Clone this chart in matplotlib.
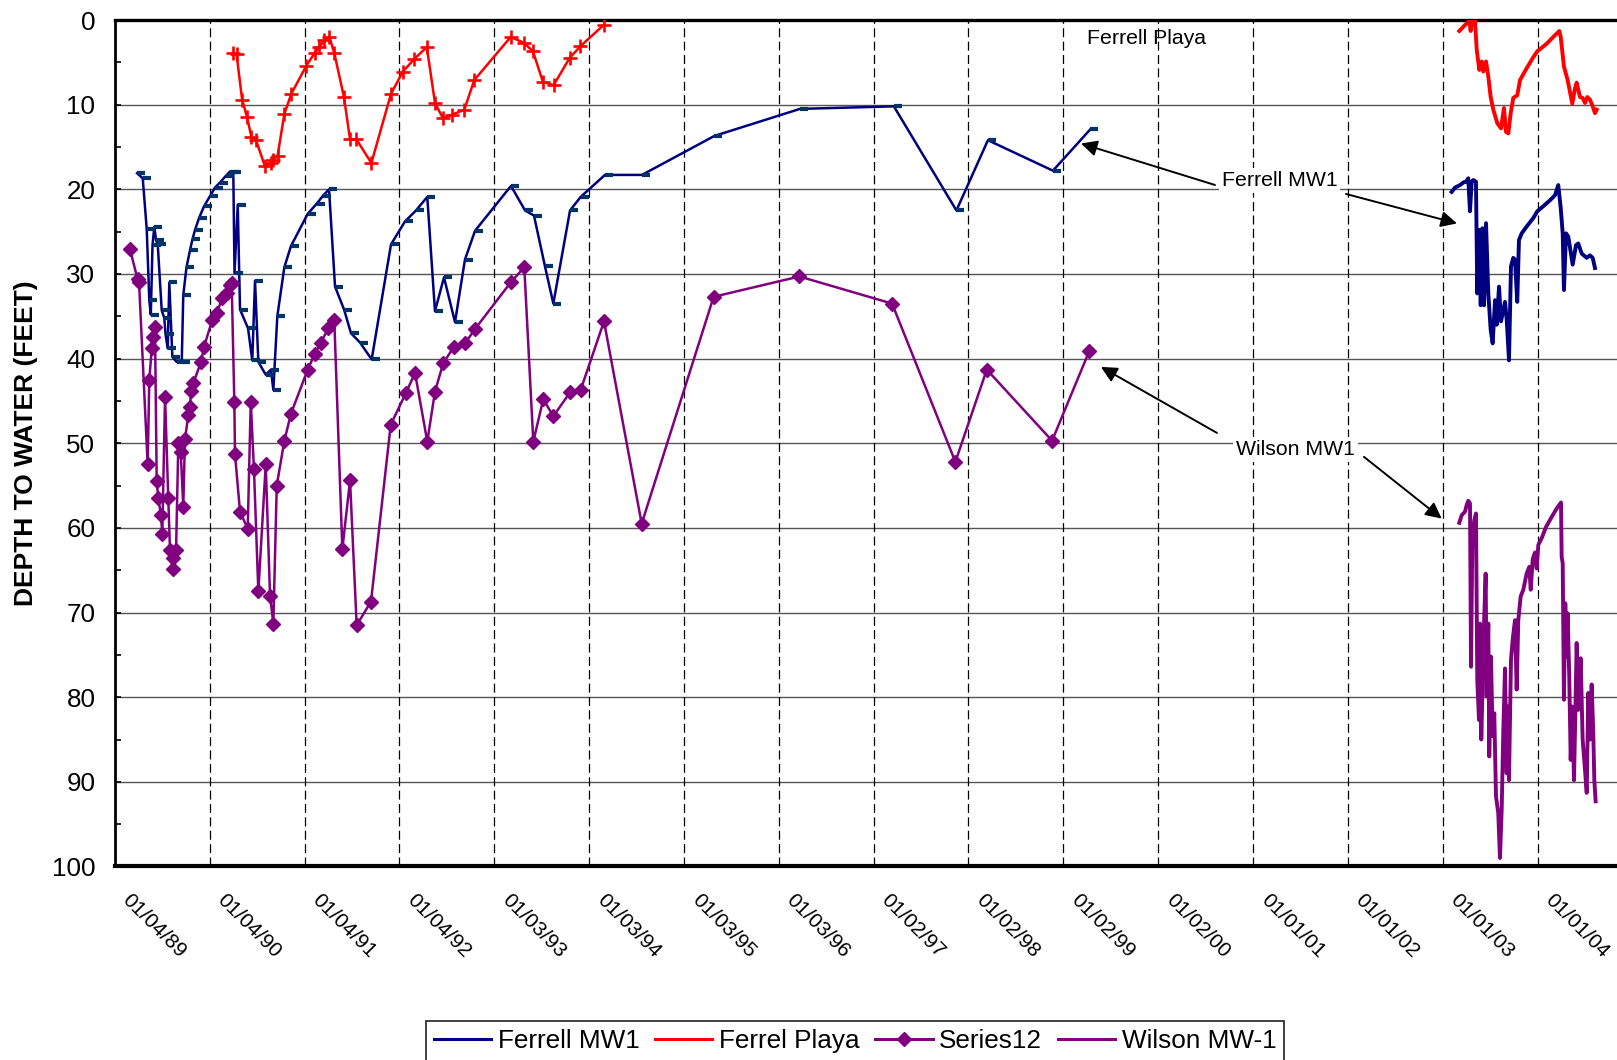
import matplotlib
matplotlib.use("Agg")
import matplotlib.pyplot as plt
import matplotlib.transforms as mtransforms
from matplotlib.path import Path
from matplotlib.lines import Line2D
from datetime import datetime

plt.rcParams['font.family'] = ['Liberation Sans', 'DejaVu Sans']

# ---------------------------------------------------------------------------
# Axis labels (dates are MM/DD/YY, one every 365 days)
# ---------------------------------------------------------------------------
tick_labels = ['01/04/89', '01/04/90', '01/04/91', '01/04/92', '01/03/93',
               '01/03/94', '01/03/95', '01/03/96', '01/02/97', '01/02/98',
               '01/02/99', '01/02/00', '01/01/01', '01/01/02', '01/01/03',
               '01/01/04']
depth_ticks = [0, 10, 20, 30, 40, 50, 60, 70, 80, 90, 100]

# ---------------------------------------------------------------------------
# Manual measurements, 1989-1999 (decimal year, depth to water in feet)
# ---------------------------------------------------------------------------
ferrell_manual_year = [
    1989.242, 1989.302, 1989.344, 1989.371, 1989.387, 1989.405, 1989.424,
    1989.442, 1989.460, 1989.502, 1989.529, 1989.542, 1989.565, 1989.582,
    1989.614, 1989.660, 1989.713, 1989.729, 1989.763, 1989.800, 1989.826,
    1989.853, 1989.895, 1989.948, 1990.011, 1990.063, 1990.116, 1990.179,
    1990.221, 1990.256, 1990.269, 1990.303, 1990.327, 1990.411, 1990.456,
    1990.485, 1990.520, 1990.598, 1990.653, 1990.678, 1990.720, 1990.794,
    1990.864, 1991.040, 1991.135, 1991.198, 1991.265, 1991.328, 1991.423,
    1991.496, 1991.591, 1991.714, 1991.918, 1992.065, 1992.181, 1992.300,
    1992.381, 1992.476, 1992.592, 1992.697, 1992.803, 1993.182, 1993.330,
    1993.424, 1993.540, 1993.628, 1993.804, 1993.916, 1994.172, 1994.562,
    1995.324, 1996.227, 1997.216, 1997.875, 1998.207, 1998.892, 1999.287]
ferrell_manual_depth = [
    18.1, 18.7, 24.7, 33.1, 34.8, 26.6, 24.4,
    26.0, 26.5, 34.3, 35.2, 37.1, 38.8, 31.0,
    39.8, 40.4, 40.4, 32.5, 29.2, 27.2, 25.9,
    24.8, 23.4, 22.0, 20.8, 19.8, 19.2, 18.4,
    17.9, 17.9, 29.9, 21.8, 34.2, 36.4, 40.2,
    30.8, 40.4, 41.9, 41.3, 43.7, 35.0, 29.2,
    26.7, 22.9, 21.7, 20.8, 20.0, 31.5, 34.2,
    37.0, 38.1, 40.1, 26.5, 23.8, 22.5, 20.9,
    34.4, 30.4, 35.7, 28.3, 24.9, 19.6, 22.5,
    23.1, 29.1, 33.5, 22.5, 20.9, 18.3, 18.3,
    13.7, 10.5, 10.2, 22.5, 14.2, 17.8, 12.9]

playa_manual_year = [
    1990.253, 1990.290, 1990.349, 1990.401, 1990.447, 1990.496, 1990.590,
    1990.650, 1990.677, 1990.722, 1990.794, 1990.868, 1991.026, 1991.113,
    1991.162, 1991.215, 1991.268, 1991.320, 1991.422, 1991.486, 1991.553,
    1991.711, 1991.918, 1992.043, 1992.163, 1992.295, 1992.381, 1992.465,
    1992.558, 1992.690, 1992.795, 1993.179, 1993.318, 1993.413, 1993.518,
    1993.631, 1993.799, 1993.913, 1994.158]
playa_manual_depth = [
    3.9, 4.0, 9.4, 11.5, 13.8, 14.2, 17.3,
    16.9, 16.5, 16.1, 11.1, 8.7, 5.4, 3.9,
    3.2, 2.4, 2.0, 3.9, 9.1, 14.1, 14.1,
    16.9, 8.7, 6.1, 4.6, 3.2, 9.8, 11.6,
    11.2, 10.6, 7.1, 2.0, 2.7, 3.7, 7.3,
    7.7, 4.5, 3.1, 0.6]

series12_year = [
    1989.168, 1989.247, 1989.263, 1989.354, 1989.371, 1989.397, 1989.407,
    1989.431, 1989.449, 1989.466, 1989.494, 1989.508, 1989.537, 1989.571,
    1989.589, 1989.616, 1989.626, 1989.653, 1989.677, 1989.702, 1989.729,
    1989.747, 1989.782, 1989.800, 1989.811, 1989.835, 1989.916, 1989.948,
    1990.035, 1990.081, 1990.140, 1990.187, 1990.221, 1990.239, 1990.267,
    1990.274, 1990.327, 1990.408, 1990.440, 1990.474, 1990.520, 1990.598,
    1990.643, 1990.678, 1990.714, 1990.794, 1990.864, 1991.040, 1991.117,
    1991.180, 1991.257, 1991.320, 1991.405, 1991.486, 1991.556, 1991.707,
    1991.915, 1992.073, 1992.171, 1992.300, 1992.381, 1992.469, 1992.582,
    1992.697, 1992.803, 1993.179, 1993.322, 1993.417, 1993.522, 1993.628,
    1993.804, 1993.916, 1994.162, 1994.559, 1995.317, 1996.220, 1997.197,
    1997.864, 1998.195, 1998.883, 1999.275]
series12_depth = [
    27.1, 30.6, 31.0, 52.5, 42.5, 38.8, 37.4,
    36.3, 54.5, 56.5, 58.5, 60.7, 44.5, 56.5,
    62.6, 64.8, 63.5, 62.6, 50.0, 51.0, 57.5,
    49.5, 46.7, 45.7, 43.8, 42.9, 40.4, 38.6,
    35.4, 34.6, 32.9, 32.2, 31.3, 31.1, 45.1,
    51.3, 58.1, 60.1, 45.1, 53.1, 67.5, 52.5,
    68.0, 71.3, 55.0, 49.7, 46.5, 41.3, 39.4,
    38.1, 36.4, 35.4, 62.5, 54.4, 71.5, 68.7,
    47.8, 44.1, 41.7, 49.8, 43.9, 40.5, 38.6,
    38.2, 36.5, 31.0, 29.2, 49.8, 44.8, 46.8,
    44.0, 43.7, 35.6, 59.5, 32.7, 30.3, 33.5,
    52.2, 41.3, 49.7, 39.1]

# ---------------------------------------------------------------------------
# Transducer records, 2003-2004 (decimal year, depth to water in feet)
# ---------------------------------------------------------------------------
ferrell_mw1_year = [
    2003.093, 2003.128, 2003.181, 2003.215, 2003.244, 2003.268, 2003.286,
    2003.304, 2003.321, 2003.349, 2003.363, 2003.384, 2003.399, 2003.416,
    2003.434, 2003.455, 2003.479, 2003.504, 2003.525, 2003.550, 2003.567,
    2003.592, 2003.613, 2003.655, 2003.673, 2003.697, 2003.718, 2003.742,
    2003.760, 2003.784, 2003.802, 2003.831, 2003.883, 2003.953, 2003.995,
    2004.058, 2004.129, 2004.182, 2004.216, 2004.242, 2004.263, 2004.276,
    2004.298, 2004.322, 2004.368, 2004.403, 2004.427, 2004.463, 2004.516,
    2004.550, 2004.579, 2004.603]
ferrell_mw1_depth = [
    20.3, 19.8, 19.5, 19.2, 19.1, 18.7, 22.6,
    19.1, 18.9, 19.1, 32.3, 24.8, 33.7, 24.6,
    33.7, 24.0, 32.3, 36.6, 38.2, 33.1, 36.0,
    31.5, 35.6, 33.3, 35.4, 40.2, 29.1, 28.1,
    28.3, 33.3, 26.0, 25.2, 24.4, 23.4, 22.6,
    22.0, 21.3, 20.7, 19.5, 22.2, 25.2, 31.9,
    25.2, 25.6, 28.9, 26.6, 26.4, 27.6, 28.1,
    27.8, 28.1, 29.3]

ferrel_playa_year = [
    2003.173, 2003.233, 2003.279, 2003.293, 2003.310, 2003.339, 2003.357,
    2003.384, 2003.409, 2003.426, 2003.455, 2003.479, 2003.504, 2003.532,
    2003.574, 2003.613, 2003.644, 2003.665, 2003.690, 2003.715, 2003.742,
    2003.784, 2003.813, 2003.883, 2003.953, 2003.995, 2004.094, 2004.164,
    2004.227, 2004.242, 2004.276, 2004.315, 2004.340, 2004.364, 2004.392,
    2004.410, 2004.445, 2004.473, 2004.498, 2004.522, 2004.550, 2004.579,
    2004.603, 2004.621]
ferrel_playa_depth = [
    1.3, 0.6, 0.1, 1.3, 0.0, 0.1, 3.5,
    5.9, 4.9, 6.1, 4.9, 6.7, 9.1, 10.6,
    12.2, 12.8, 10.4, 13.2, 13.4, 11.0, 9.2,
    8.9, 7.1, 5.7, 4.4, 3.7, 2.8, 2.0,
    1.3, 2.0, 5.5, 7.1, 8.5, 9.9, 8.1,
    7.4, 9.1, 9.2, 9.8, 9.1, 9.4, 10.2,
    11.0, 10.6]

wilson_mw1_year = [
    2003.173, 2003.199, 2003.233, 2003.251, 2003.268, 2003.286, 2003.297,
    2003.310, 2003.331, 2003.349, 2003.363, 2003.381, 2003.391, 2003.405,
    2003.420, 2003.434, 2003.451, 2003.462, 2003.479, 2003.489, 2003.507,
    2003.525, 2003.542, 2003.560, 2003.584, 2003.602, 2003.620, 2003.637,
    2003.655, 2003.673, 2003.683, 2003.697, 2003.718, 2003.736, 2003.760,
    2003.778, 2003.795, 2003.820, 2003.848, 2003.883, 2003.911, 2003.926,
    2003.947, 2003.971, 2003.989, 2004.006, 2004.042, 2004.087, 2004.147,
    2004.200, 2004.245, 2004.252, 2004.263, 2004.276, 2004.290, 2004.305,
    2004.315, 2004.332, 2004.347, 2004.364, 2004.382, 2004.396, 2004.410,
    2004.427, 2004.452, 2004.473, 2004.498, 2004.516, 2004.532, 2004.550,
    2004.568, 2004.585, 2004.596, 2004.610]
wilson_mw1_depth = [
    59.4, 58.5, 58.1, 57.3, 56.8, 57.1, 76.4,
    62.2, 59.1, 58.3, 78.0, 82.7, 71.3, 85.0,
    78.0, 71.3, 65.4, 79.9, 71.3, 87.0, 75.2,
    84.6, 81.9, 91.7, 93.7, 99.0, 93.3, 84.0,
    76.6, 89.0, 81.1, 89.8, 75.6, 73.2, 70.9,
    79.1, 70.9, 68.1, 67.3, 65.4, 64.6, 67.3,
    63.7, 62.9, 64.8, 62.0, 61.2, 59.9, 58.7,
    57.7, 57.0, 63.4, 64.2, 80.3, 68.9, 75.2,
    70.1, 77.6, 87.4, 81.1, 89.8, 81.9, 73.6,
    81.5, 75.4, 85.0, 88.6, 91.3, 79.5, 85.0,
    78.5, 84.2, 89.8, 92.3]

NAVY = '#000080'
DASH_BLUE = '#003366'
RED = '#FF0000'
PURPLE = '#800080'


def decimal_year(label):
    d = datetime.strptime(label, '%m/%d/%y')
    return 1989 + (d - datetime(1989, 1, 1)).days / 365.25


tick_pos = [decimal_year(s) for s in tick_labels]

fig = plt.figure(figsize=(16.17, 10.60), dpi=100)
ax = fig.add_axes([0.07103, 0.18255, 0.92897, 0.79858])

# short horizontal bar used as the marker of the manual Ferrell readings
dash_marker = Path([(-0.05, 0.0), (1.0, 0.0)])

ax.plot(ferrell_manual_year, ferrell_manual_depth, color=NAVY, lw=1.8,
        marker=dash_marker, ms=11.5, mec=DASH_BLUE, mfc='none', mew=3.0,
        zorder=4)
ax.plot(playa_manual_year, playa_manual_depth, color=RED, lw=1.8,
        marker='+', ms=10.5, mew=1.9, zorder=4)
ax.plot(series12_year, series12_depth, color=PURPLE, lw=1.8,
        marker='D', ms=6.8, mec=PURPLE, mfc=PURPLE, zorder=4)

ax.plot(ferrell_mw1_year, ferrell_mw1_depth, color=NAVY, lw=2.8,
        solid_joinstyle='round', zorder=4)
ax.plot(ferrel_playa_year, ferrel_playa_depth, color=RED, lw=2.8,
        solid_joinstyle='round', zorder=4)
ax.plot(wilson_mw1_year, wilson_mw1_depth, color=PURPLE, lw=2.8,
        solid_joinstyle='round', zorder=4)

# axes limits and ticks
ax.set_xlim(tick_pos[0], 2004.835)
ax.set_ylim(100, 0)
ax.set_yticks(depth_ticks)
ax.set_yticks(range(5, 100, 10), minor=True)
ax.set_yticklabels([str(v) for v in depth_ticks], fontsize=18.7)
ax.tick_params(axis='y', which='both', direction='in', length=4, width=1.2,
               pad=14)
ax.set_xticks(tick_pos)
ax.set_xticklabels(tick_labels, rotation=-45, ha='left', va='top',
                   rotation_mode='anchor', fontsize=15)
ax.tick_params(axis='x', length=0, pad=17.5)
shift = mtransforms.ScaledTranslation(12.5 / 72, 0, fig.dpi_scale_trans)
for lab in ax.get_xticklabels():
    lab.set_transform(lab.get_transform() + shift)

# gridlines
for v in depth_ticks[1:-1]:
    ax.axhline(v, color='#555555', lw=1.0, zorder=1)
for p in tick_pos[1:]:
    ax.axvline(p, color='black', lw=0.9, dashes=(7.2, 3.5), zorder=1)

ax.spines['right'].set_visible(False)
ax.spines['top'].set_linewidth(2.4)
ax.spines['bottom'].set_linewidth(3.0)
ax.spines['left'].set_linewidth(2.0)

ax.set_ylabel('DEPTH TO WATER (FEET)', fontsize=19, fontweight='bold')
ax.yaxis.set_label_coords(-0.0510, 0.5)

# annotations
ax.text(1999.881, 2.15, 'Ferrell Playa', fontsize=15.3, ha='center',
        va='center', zorder=6)
box = dict(facecolor='white', edgecolor='none', pad=2)
ax.text(2001.282, 18.96, 'Ferrell MW1', fontsize=15.3, ha='center',
        va='center', bbox=box, zorder=6)
ax.text(2001.446, 50.74, 'Wilson MW1', fontsize=15.3, ha='center',
        va='center', bbox=box, zorder=6)

arrow = dict(arrowstyle='-|>', color='black', lw=1.4, mutation_scale=24,
             shrinkA=0, shrinkB=0)
for (x0, y0), (x1, y1) in [((2000.599, 19.49), (1999.188, 14.59)),
                           ((2001.980, 20.55), (2003.149, 24.03)),
                           ((2000.620, 48.78), (1999.398, 40.98)),
                           ((2002.169, 51.61), (2002.988, 58.90))]:
    ax.annotate('', xy=(x1, y1), xytext=(x0, y0), arrowprops=arrow, zorder=6)

# legend
handles = [Line2D([], [], color=NAVY, lw=2.2),
           Line2D([], [], color=RED, lw=2.2),
           Line2D([], [], color=PURPLE, lw=2.2, marker='D', ms=7),
           Line2D([], [], color=PURPLE, lw=2.2)]
names = ['Ferrell MW1', 'Ferrel Playa', 'Series12', 'Wilson MW-1']
leg = fig.legend(handles, names, loc='upper center', ncol=4,
                 bbox_to_anchor=(0.5288, 0.0368), fontsize=18.8,
                 frameon=True, fancybox=False, framealpha=1,
                 edgecolor='#333333', borderpad=0.3, handlelength=2.2,
                 handletextpad=0.25, columnspacing=0.6, borderaxespad=0)
leg.get_frame().set_linewidth(1.3)

fig.savefig('out.png', dpi=100)
